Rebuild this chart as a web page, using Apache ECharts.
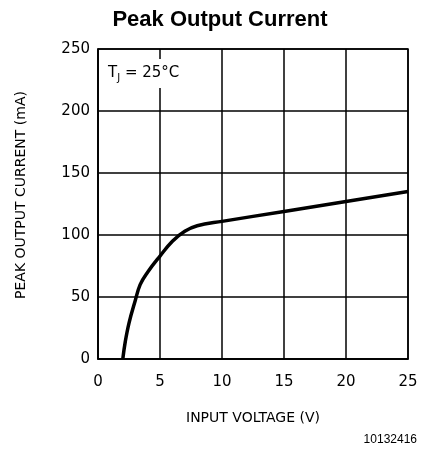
<!DOCTYPE html>
<html>
<head>
<meta charset="utf-8">
<script src="https://cdn.jsdelivr.net/npm/echarts@6/dist/echarts.min.js"></script>
<style>
  html, body { margin: 0; padding: 0; background: #fff; }
  #chart { width: 423px; height: 459px; }
</style>
</head>
<body>
<div id="chart"></div>
<script>
// input voltage (V) vs peak output current (mA)
const voltage = [2.0, 2.2, 2.5, 3.0, 3.4, 4.0, 5.0, 6.0, 7.0, 8.0, 10, 15, 20, 25]
const current = [0, 14, 29, 47, 60, 70, 83, 95, 103, 107.5, 111, 119, 127, 135]

const xTicks = [0, 5, 10, 15, 20, 25]
const yTicks = [0, 50, 100, 150, 200, 250]

const labelFont = 'DejaVu Sans'

const chart = echarts.init(document.getElementById('chart'))

const option = {
  animation: false,
  title: {
    text: 'Peak Output Current',
    left: 215,
    top: 4,
    textAlign: 'center',
    textStyle: { fontFamily: 'Liberation Sans', fontWeight: 'bold', fontSize: 22, color: '#000' }
  },
  grid: {
    left: 98, right: 15, top: 49, bottom: 100,
    show: true, borderColor: '#000', borderWidth: 1.5
  },
  xAxis: {
    type: 'value',
    min: xTicks[0],
    max: xTicks[xTicks.length - 1],
    interval: 5,
    name: 'INPUT VOLTAGE (V)',
    nameLocation: 'middle',
    nameGap: 52,
    nameTextStyle: { fontFamily: labelFont, fontSize: 14, color: '#000' },
    axisLine: { show: true, lineStyle: { color: '#000', width: 1.5 } },
    axisTick: { show: false },
    axisLabel: { fontFamily: labelFont, fontSize: 15, color: '#000', margin: 16 },
    splitLine: { show: true, lineStyle: { color: '#000', width: 1.5 } }
  },
  yAxis: {
    type: 'value',
    min: yTicks[0],
    max: yTicks[yTicks.length - 1],
    interval: 50,
    name: 'PEAK OUTPUT CURRENT (mA)',
    nameLocation: 'middle',
    nameGap: 70,
    nameTextStyle: { fontFamily: labelFont, fontSize: 14, color: '#000', padding: [0, 0, 0, 18] },
    axisLine: { show: true, lineStyle: { color: '#000', width: 1.5 } },
    axisTick: { show: false },
    axisLabel: { fontFamily: labelFont, fontSize: 15, color: '#000', margin: 8 },
    splitLine: { show: true, lineStyle: { color: '#000', width: 1.5 } }
  },
  series: [{
    type: 'line',
    data: voltage.map((v, i) => [v, current[i]]),
    smooth: 0.4,
    showSymbol: false,
    lineStyle: { color: '#000', width: 3.5 },
    z: 5
  }],
  graphic: [
    {
      type: 'text',
      left: 104,
      top: 59,
      z: 10,
      style: {
        text: 'T{sub|J} = 25°C',
        fontFamily: labelFont,
        fontSize: 15,
        fill: '#000',
        backgroundColor: '#fff',
        padding: [5, 4, 5, 4],
        rich: {
          sub: { fontFamily: labelFont, fontSize: 10, verticalAlign: 'bottom', padding: [9, 0, 0, 0] }
        }
      }
    },
    {
      type: 'text',
      right: 6,
      top: 434,
      style: {
        text: '10132416',
        fontFamily: 'Liberation Sans',
        fontSize: 12,
        fill: '#000'
      }
    }
  ]
}

chart.setOption(option)
</script>
</body>
</html>
